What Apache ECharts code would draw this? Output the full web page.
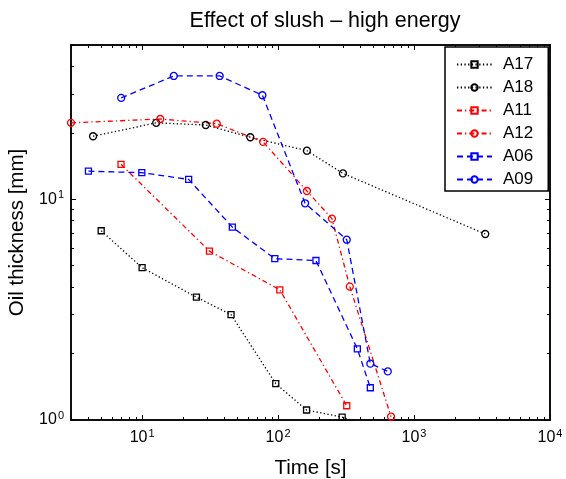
<!DOCTYPE html>
<html>
<head>
<meta charset="utf-8">
<script src="https://cdn.jsdelivr.net/npm/echarts@6/dist/echarts.min.js"></script>
<style>
html,body{margin:0;padding:0;background:#fff;}
#chart{width:566px;height:479px;}
</style>
</head>
<body>
<div id="chart"></div>
<script>
// Data (time [s], oil thickness [mm])
const A17_t = [5.0, 10.0, 25.1, 45.1, 96.2, 162, 296, 362];
const A17_h = [7.2, 4.9, 3.6, 3.0, 1.46, 1.11, 1.03, 0.99];
const A18_t = [4.36, 12.7, 29.4, 62.5, 163, 300, 3340];
const A18_h = [19.3, 22.2, 21.7, 19.1, 16.6, 13.1, 6.96];
const A11_t = [7.0, 31.3, 103, 320];
const A11_h = [14.4, 5.82, 3.89, 1.16];
const A12_t = [3.0, 13.6, 35.4, 77.6, 163, 249, 337, 678];
const A12_h = [22.2, 23.1, 22.0, 18.2, 10.9, 8.17, 4.02, 1.035];
const A06_t = [4.03, 9.95, 22.0, 46.1, 94.6, 190, 383, 477];
const A06_h = [13.4, 13.2, 12.3, 7.48, 5.38, 5.28, 2.10, 1.40];
const A09_t = [7.02, 17.1, 37.2, 76.7, 158, 320, 477, 641];
const A09_h = [28.8, 36.2, 36.2, 29.6, 9.59, 6.56, 1.80, 1.66];

const xMajor = [10, 100, 1000, 10000];
const xMinor = [3,4,5,6,7,8,9,20,30,40,50,60,70,80,90,200,300,400,500,600,700,800,900,2000,3000,4000,5000,6000,7000,8000,9000];
const yMajor = [1, 10];
const yMinor = [2,3,4,5,6,7,8,9,20,30,40,50];

function zip(a, b) { return a.map((v, i) => [v, b[i]]); }

const FONT = 'Liberation Sans';
const supFmt = v => '{b|10}{s|' + Math.round(Math.log10(v)) + '}';
const rich = {
  b: {fontSize: 16, fontFamily: FONT, color: '#000'},
  s: {fontSize: 11, fontFamily: FONT, color: '#000', padding: [0, 0, 9, 1]}
};

function xAxisDef(pos, major, showLabel, name) {
  return {
    type: 'log', logBase: 10, min: 3, max: 10000, position: pos,
    name: name || '', nameLocation: 'middle', nameGap: 38,
    nameTextStyle: {fontSize: 20.5, fontFamily: FONT, color: '#000'},
    axisLine: {show: true, onZero: false, lineStyle: {color: '#000', width: 1.5}},
    axisTick: {show: true, inside: true, length: major ? 5 : 3,
      customValues: major ? xMajor : xMinor, lineStyle: {color: '#000', width: 1}},
    axisLabel: {show: showLabel, customValues: xMajor, formatter: supFmt, rich: rich, margin: 8},
    splitLine: {show: false}
  };
}
function yAxisDef(pos, major, showLabel, name) {
  return {
    type: 'log', logBase: 10, min: 1, max: 50, position: pos,
    name: name || '', nameLocation: 'middle', nameGap: 26,
    nameTextStyle: {fontSize: 20.5, fontFamily: FONT, color: '#000'},
    axisLine: {show: true, onZero: false, lineStyle: {color: '#000', width: 1.5}},
    axisTick: {show: true, inside: true, length: major ? 5 : 3,
      customValues: major ? yMajor : yMinor, lineStyle: {color: '#000', width: 1}},
    axisLabel: {show: showLabel, customValues: yMajor, formatter: supFmt, rich: rich, margin: 7},
    splitLine: {show: false}
  };
}

function mk(name, t, h, color, symbol, size, dash) {
  return {
    name: name, type: 'line', data: zip(t, h),
    xAxisIndex: 0, yAxisIndex: 0,
    symbol: symbol, symbolSize: size, showSymbol: true,
    color: color,
    itemStyle: {color: 'rgba(255,255,255,0)', borderColor: color, borderWidth: 1.3},
    lineStyle: {color: color, width: 1.3, type: dash},
    emphasis: {disabled: true},
    animation: false, z: 3
  };
}

const dotted = [1.3, 2.4];
const dashdot = [5, 3, 1.3, 3];
const dashed = [6, 4];

const chart = echarts.init(document.getElementById('chart'), null, {renderer: 'canvas'});
chart.setOption({
  animation: false,
  backgroundColor: '#fff',
  title: {
    text: 'Effect of slush \u2013 high energy',
    left: 320, top: 5, textAlign: 'center',
    textStyle: {fontSize: 21.5, fontWeight: 'normal', fontFamily: FONT, color: '#000'}
  },
  grid: {left: 71, right: 16, top: 45, bottom: 59, outerBoundsMode: 'none', containLabel: false},
  xAxis: [
    xAxisDef('bottom', true, true, 'Time [s]'),
    xAxisDef('bottom', false, false),
    xAxisDef('top', true, false),
    xAxisDef('top', false, false)
  ],
  yAxis: [
    yAxisDef('left', true, true, 'Oil thickness [mm]'),
    yAxisDef('left', false, false),
    yAxisDef('right', true, false),
    yAxisDef('right', false, false)
  ],
  legend: {
    orient: 'vertical', left: 445, top: 47,
    itemWidth: 35, itemHeight: 8, itemGap: 6,
    padding: [9, 15, 3, 11],
    backgroundColor: '#fff', borderColor: '#000', borderWidth: 1.5, borderRadius: 0,
    textStyle: {fontSize: 17, lineHeight: 16, fontFamily: FONT, color: '#000', padding: [0, 0, 0, 6]},
    selectedMode: false,
    data: ['A17', 'A18', 'A11', 'A12', 'A06', 'A09']
  },
  series: [
    mk('A17', A17_t, A17_h, '#000000', 'rect', 6, dotted),
    mk('A18', A18_t, A18_h, '#000000', 'circle', 7, dotted),
    mk('A11', A11_t, A11_h, '#ff0000', 'rect', 6, dashdot),
    mk('A12', A12_t, A12_h, '#ff0000', 'circle', 7, dashdot),
    mk('A06', A06_t, A06_h, '#0000ff', 'rect', 6, dashed),
    mk('A09', A09_t, A09_h, '#0000ff', 'circle', 7, dashed)
  ]
});
</script>
</body>
</html>
